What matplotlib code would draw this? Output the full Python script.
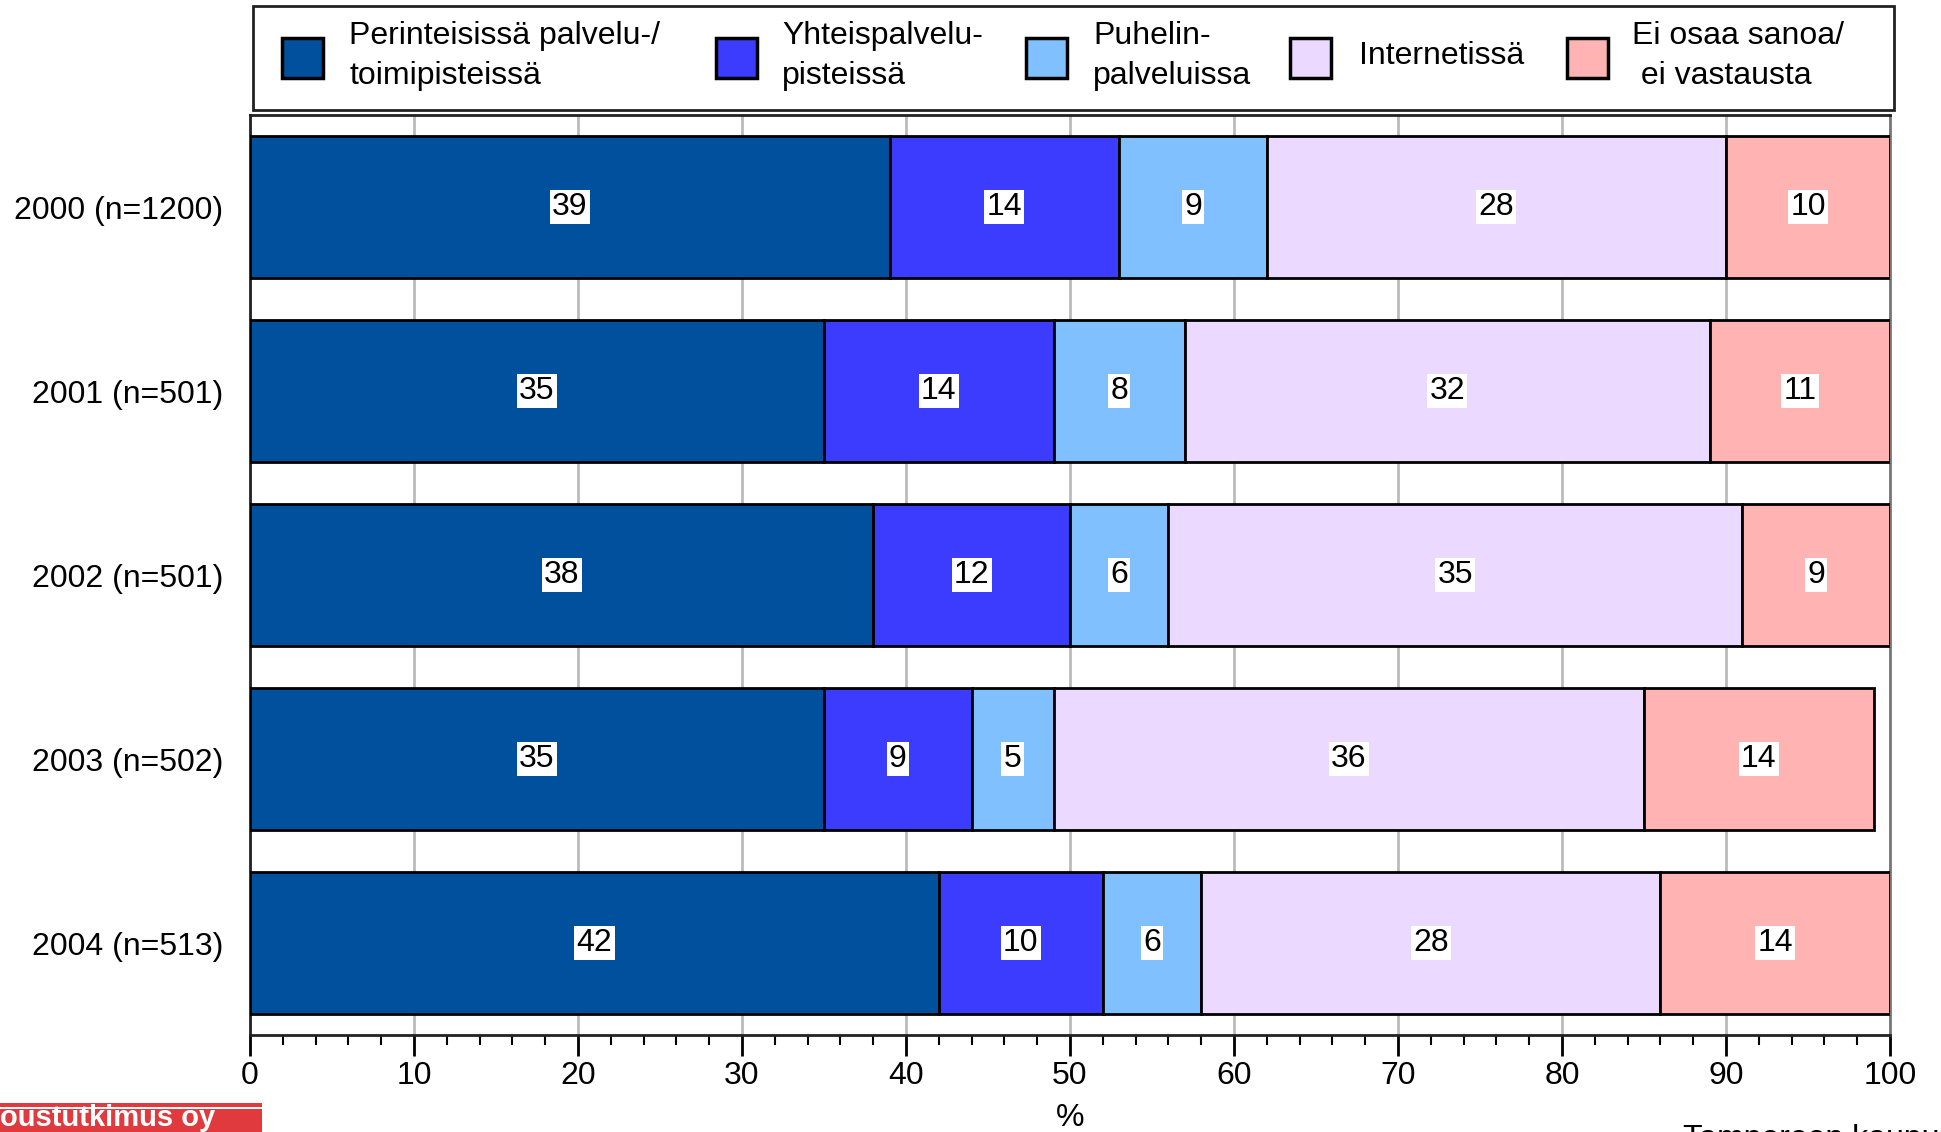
import matplotlib
matplotlib.use("Agg")
import matplotlib.pyplot as plt
from matplotlib.patches import Rectangle
from matplotlib.ticker import MultipleLocator
import numpy as np

plt.rcParams['font.family'] = ['Liberation Sans', 'DejaVu Sans']

years = ["2000 (n=1200)", "2001 (n=501)", "2002 (n=501)", "2003 (n=502)", "2004 (n=513)"]
series = ["Perinteisissä palvelu-/\ntoimipisteissä", "Yhteispalvelu-\npisteissä",
          "Puhelin-\npalveluissa", "Internetissä", "Ei osaa sanoa/\n ei vastausta"]
perinteiset = [39, 35, 38, 35, 42]
yhteispalvelu = [14, 14, 12, 9, 10]
puhelin = [9, 8, 6, 5, 6]
internet = [28, 32, 35, 36, 28]
eos = [10, 11, 9, 14, 14]
colors = ['#00509e', '#3c3cff', '#80c0ff', '#ebd9ff', '#ffb3b3']

FS = 23
W, H = 1941, 1132
fig = plt.figure(figsize=(W / 100, H / 100), dpi=100)
ax = fig.add_axes([250 / W, 1 - 1035 / H, (1890 - 250) / W, (1035 - 115) / H])

data = [perinteiset, yhteispalvelu, puhelin, internet, eos]
y = np.arange(len(years))
left = np.zeros(len(years))
for vals, col in zip(data, colors):
    vals = np.array(vals, dtype=float)
    ax.barh(y, vals, left=left, height=0.77, color=col, edgecolor='black', linewidth=2, zorder=3)
    for yi, l, v in zip(y, left, vals):
        ax.text(l + v / 2, yi, f"{int(v)}", ha='center', va='center', fontsize=FS, zorder=5,
                bbox=dict(facecolor='white', edgecolor='none', pad=1.5))
    left += vals

ax.set_xlim(0, 100)
ax.set_ylim(len(years) - 0.5, -0.5)
ax.set_yticks(y)
ax.set_yticklabels(years, fontsize=FS)
ax.tick_params(axis='y', length=0, pad=19)
ax.xaxis.set_major_locator(MultipleLocator(10))
ax.xaxis.set_minor_locator(MultipleLocator(2))
ax.tick_params(axis='x', which='major', length=15, width=2, labelsize=FS, pad=4, direction='out')
ax.tick_params(axis='x', which='minor', length=7, width=1.5, direction='out')
ax.grid(axis='x', which='major', color='#bbbbbb', linewidth=2, zorder=0)
ax.set_axisbelow(True)
for s in ax.spines.values():
    s.set_linewidth(2)
    s.set_color('#222222')
ax.spines['right'].set_color('#777777')
ax.set_xlabel('%', fontsize=FS, labelpad=8)

# legend box
fig.patches.append(Rectangle((253 / W, 1 - 110 / H), (1894 - 253) / W, (110 - 6) / H,
                             transform=fig.transFigure, facecolor='white', edgecolor='#222222',
                             linewidth=2))
hx = [282, 716, 1026, 1290, 1567]
tx = [349, 782, 1093, 1359, 1632]
for h, t, lab, col in zip(hx, tx, series, colors):
    fig.patches.append(Rectangle((h / W, 1 - 78 / H), 41 / W, 40 / H, transform=fig.transFigure,
                                 facecolor=col, edgecolor='black', linewidth=2.5))
    fig.text(t / W, 1 - 56 / H, lab, ha='left', va='center', fontsize=FS, linespacing=1.4)

# logo and footer
fig.patches.append(Rectangle((0, 0), 262 / W, 29 / H, transform=fig.transFigure,
                             facecolor='#e03a3e', edgecolor='none'))
fig.patches.append(Rectangle((0, 23 / H), 262 / W, 2 / H, transform=fig.transFigure,
                             facecolor='white', edgecolor='none'))
fig.text(0, 0, "oustutkimus oy", ha='left', va='bottom', fontsize=21, color='white',
         fontweight='bold')
fig.text(1683 / W, 1 - 1124 / H, "Tampereen kaupunki", ha='left', va='top', fontsize=FS)

fig.savefig("out.png", dpi=100)
